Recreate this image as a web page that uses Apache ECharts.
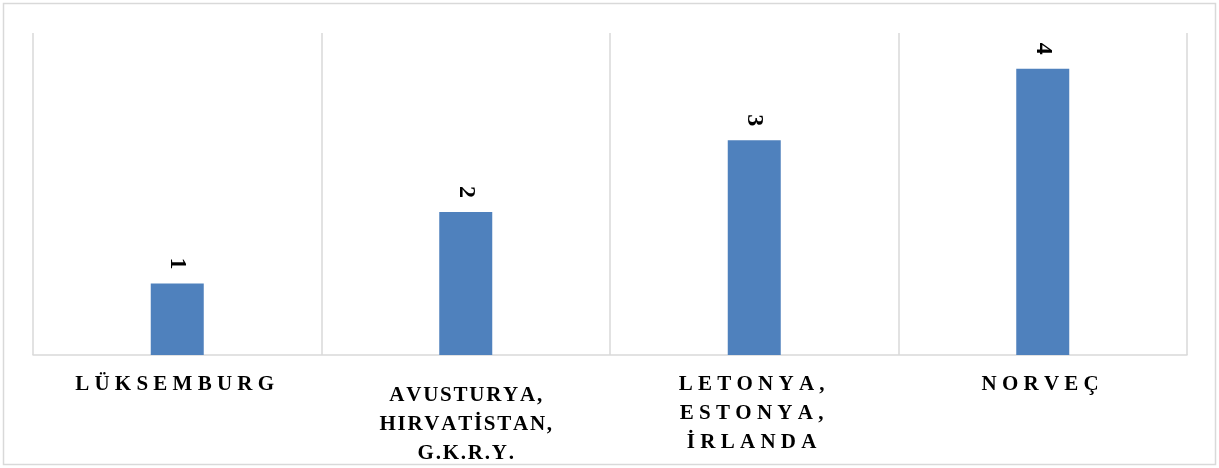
<!DOCTYPE html>
<html>
<head>
<meta charset="utf-8">
<script src="https://cdn.jsdelivr.net/npm/echarts@6/dist/echarts.min.js"></script>
<style>
  html, body { margin: 0; padding: 0; background: #ffffff; }
  #chart { width: 1219px; height: 468px; }
</style>
</head>
<body>
<div id="chart"></div>
<script>
// Country groups (one bar per rank) and their rank values
const categories = [
  'LÜKSEMBURG',
  'AVUSTURYA,\nHIRVATİSTAN,\nG.K.R.Y.',
  'LETONYA,\nESTONYA,\nİRLANDA',
  'NORVEÇ'
];
const ranks = [1, 2, 3, 4];

// Per-label letter tracking (space character placed after each glyph)
const tracking = [' ', '\u200A', ' ', ' '];

function track(text, gap) {
  return text.split('\n').map(function (line) {
    return Array.from(line).join(gap) + (gap === ' ' ? gap : '');
  }).join('\n');
}

const labelFont = '"Liberation Serif", "Times New Roman", serif';

const chart = echarts.init(document.getElementById('chart'), null, { renderer: 'canvas' });

chart.setOption({
  animation: false,
  backgroundColor: '#ffffff',
  graphic: [{
    type: 'rect',
    shape: { x: 3.5, y: 3.5, width: 1212, height: 461 },
    style: { fill: 'none', stroke: '#d9d9d9', lineWidth: 1.5 },
    silent: true
  }],
  grid: { left: 33, right: 32, top: 33, bottom: 113, containLabel: false },
  xAxis: {
    type: 'category',
    data: categories.map(function (c, i) {
      return i === 1 ? { value: c, textStyle: { padding: [11, 0, 0, 0] } } : c;
    }),
    axisLine: { show: true, lineStyle: { color: '#d9d9d9', width: 1.5 } },
    axisTick: { show: false },
    splitLine: { show: true, lineStyle: { color: '#d9d9d9', width: 1.5 } },
    axisLabel: {
      interval: 0,
      margin: 15,
      color: '#000000',
      fontFamily: labelFont,
      fontWeight: 'bold',
      fontSize: 21,
      lineHeight: 29,
      formatter: function (value, index) {
        return track(value, tracking[index]);
      }
    }
  },
  yAxis: {
    type: 'value',
    min: 0,
    max: 4.5,
    show: false,
    splitLine: { show: false }
  },
  series: [{
    type: 'bar',
    data: ranks,
    barWidth: 53,
    itemStyle: { color: '#4f81bd' },
    label: {
      show: true,
      position: 'top',
      distance: 14,
      rotate: -90,
      align: 'right',
      verticalAlign: 'middle',
      color: '#000000',
      fontFamily: labelFont,
      fontWeight: 'bold',
      fontSize: 24
    }
  }]
});
</script>
</body>
</html>
